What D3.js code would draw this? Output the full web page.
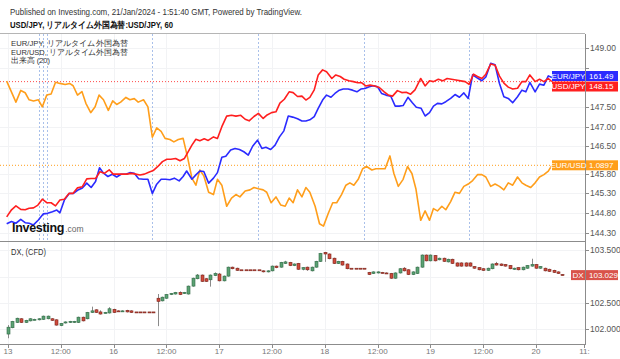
<!DOCTYPE html>
<html><head><meta charset="utf-8">
<script src="https://cdn.jsdelivr.net/npm/d3@7"></script>
<style>
body{margin:0;background:#fff;}
svg{display:block;font-family:"Liberation Sans",Arial,sans-serif;}
</style></head><body>
<svg id="c" width="620" height="359"></svg>
<script>
// ---------- DATA ----------
const xTickHours = [0,12,24,36,48,60,72,84,96,108,120,131];
const xTickLabels = ["13","12:00","16","12:00","17","12:00","18","12:00","19","12:00","20","11:"];
const sessionBreaks = [7.1,7.9,8.8,32.8,56.9,80.9,104.8];
const mainTicks = [149.00,148.50,148.00,147.50,147.00,146.50,145.80,145.30,144.80,144.30];
const dxTicks = [103.5,103.0,102.5,102.0];

// USD/JPY [hour, price]
const usdjpy = [[-0.3,144.70],[0.8,144.88],[1.8,144.98],[2.9,144.89],[3.9,144.88],[4.8,144.92],[5.8,144.93],[6.8,145.00],[7.8,145.15],[8.8,145.06],[9.8,145.06],[10.8,144.98],[11.8,145.13],[12.8,145.15],[13.9,145.30],[14.8,145.30],[15.8,145.44],[16.9,145.47],[17.9,145.67],[18.9,145.68],[19.9,145.68],[20.9,145.85],[21.9,145.81],[23.0,145.90],[23.9,145.79],[24.9,145.79],[26.0,145.79],[27.0,145.79],[28.0,145.81],[29.0,145.79],[30.0,145.77],[31.0,145.79],[32.0,145.84],[33.0,145.88],[34.0,145.98],[35.1,146.11],[36.1,146.17],[37.0,146.17],[38.1,146.19],[39.1,146.13],[40.1,146.19],[41.8,146.53],[42.7,146.68],[43.6,146.64],[44.6,146.69],[45.5,146.65],[46.7,146.74],[47.6,146.70],[48.6,147.00],[49.7,147.27],[50.8,147.29],[51.8,147.27],[52.9,147.29],[53.9,147.19],[54.8,147.15],[55.9,147.26],[56.9,147.34],[58.0,147.21],[58.9,147.30],[59.9,147.36],[60.9,147.38],[61.8,147.60],[62.8,147.70],[63.9,147.89],[64.8,147.87],[65.8,147.77],[66.8,147.78],[67.7,147.68],[68.6,147.75],[69.6,147.94],[70.5,148.32],[71.5,148.45],[72.4,148.40],[73.6,148.23],[74.5,148.32],[75.5,148.28],[76.4,148.21],[77.5,148.17],[78.5,148.15],[79.5,148.12],[80.4,148.12],[81.3,148.04],[82.3,148.06],[83.4,148.04],[84.4,148.00],[85.5,147.89],[86.4,147.81],[87.4,147.78],[88.5,147.92],[89.5,147.87],[90.5,147.88],[91.5,147.83],[92.5,147.94],[93.8,148.23],[94.8,148.04],[95.8,148.17],[96.7,148.15],[97.8,148.21],[98.8,148.17],[99.8,148.23],[100.8,148.21],[101.8,148.19],[102.9,148.17],[103.9,148.15],[104.8,148.08],[105.8,148.34],[106.7,148.28],[107.7,148.23],[108.6,148.34],[109.7,148.60],[110.7,148.57],[111.7,148.29],[112.7,148.11],[113.7,148.01],[114.7,147.96],[115.8,147.98],[116.8,148.15],[117.7,148.15],[118.6,148.32],[119.8,148.15],[120.8,148.21],[121.8,148.15],[122.8,148.23],[123.6,148.15]];

// EUR/JPY [hour, price]
const eurjpy = [[-0.3,158.83],[0.8,158.87],[1.8,158.84],[2.9,158.91],[3.9,158.85],[4.8,158.84],[5.8,158.81],[6.9,158.90],[8.0,159.01],[9.0,159.02],[10.1,159.05],[11.1,159.08],[11.8,159.03],[12.8,159.26],[13.9,159.38],[14.8,159.38],[15.8,159.44],[16.9,159.48],[17.9,159.57],[18.9,159.49],[19.9,159.60],[20.8,159.85],[21.7,159.75],[22.7,159.69],[23.7,159.73],[24.7,159.68],[25.7,159.73],[26.8,159.73],[27.7,159.76],[28.7,159.75],[29.7,159.65],[30.8,159.64],[31.8,159.64],[32.8,159.38],[33.8,159.55],[34.8,159.64],[35.8,159.64],[36.8,159.63],[37.8,159.66],[38.9,159.61],[39.8,159.69],[40.6,159.79],[41.8,159.64],[42.7,159.72],[43.6,159.79],[44.5,159.78],[45.6,159.57],[46.7,159.66],[47.6,159.76],[48.6,160.04],[49.5,160.06],[50.6,160.17],[51.6,160.20],[52.6,160.18],[53.6,160.14],[54.6,160.08],[55.6,160.24],[56.7,160.35],[57.7,160.20],[58.6,160.22],[59.7,160.18],[60.7,160.26],[61.7,160.41],[62.7,160.52],[63.7,160.79],[64.7,160.77],[65.8,160.74],[66.8,160.70],[67.7,160.70],[68.6,160.72],[69.6,160.78],[70.5,160.93],[71.5,161.08],[72.4,161.17],[73.4,161.13],[74.3,161.20],[75.3,161.26],[76.2,161.28],[77.3,161.28],[78.3,161.26],[79.3,161.23],[80.2,161.28],[81.1,161.29],[82.1,161.32],[83.0,161.34],[84.0,161.32],[84.9,161.20],[85.9,161.17],[87.0,161.15],[88.0,160.97],[88.9,160.97],[89.8,160.98],[90.9,161.13],[91.9,161.03],[92.8,160.95],[93.9,160.93],[94.8,160.79],[95.8,160.85],[96.7,160.97],[97.6,161.02],[98.6,161.01],[99.5,161.05],[100.6,161.11],[101.6,161.18],[102.6,161.13],[103.6,161.21],[104.6,161.11],[105.6,161.54],[106.7,161.48],[107.7,161.43],[108.6,161.50],[109.7,161.75],[110.7,161.72],[111.7,161.38],[112.7,161.14],[113.7,161.11],[114.7,161.03],[115.8,161.14],[116.8,161.26],[117.7,161.23],[118.6,161.40],[119.8,161.23],[120.8,161.37],[121.8,161.35],[122.8,161.52],[123.6,161.49]];

// EUR/USD [hour, price]
const eurusd = [[-0.3,1.0969],[1.8,1.0951],[2.9,1.0961],[3.9,1.0959],[4.8,1.0953],[5.8,1.0952],[6.9,1.0953],[7.8,1.0947],[8.8,1.0957],[9.8,1.0958],[10.8,1.0968],[11.8,1.0967],[13.0,1.0966],[14.0,1.0967],[14.8,1.0965],[15.8,1.0957],[16.8,1.0960],[17.7,1.0950],[18.8,1.0942],[19.8,1.0947],[20.7,1.0957],[21.7,1.0953],[22.8,1.0944],[23.8,1.0952],[24.7,1.0949],[25.6,1.0951],[26.8,1.0955],[27.7,1.0953],[28.7,1.0954],[29.6,1.0951],[30.8,1.0953],[31.8,1.0947],[32.8,1.0921],[33.8,1.0929],[34.8,1.0926],[35.7,1.0920],[36.8,1.0919],[37.7,1.0917],[38.7,1.0919],[39.8,1.0920],[40.8,1.0904],[41.8,1.0886],[42.7,1.0880],[43.6,1.0893],[44.5,1.0888],[45.6,1.0874],[46.7,1.0872],[47.6,1.0885],[48.6,1.0880],[49.7,1.0862],[50.8,1.0869],[51.8,1.0872],[52.7,1.0870],[53.9,1.0875],[55.0,1.0876],[55.9,1.0878],[56.9,1.0877],[58.0,1.0876],[58.8,1.0874],[59.8,1.0865],[60.9,1.0870],[62.0,1.0863],[63.0,1.0862],[63.9,1.0869],[64.8,1.0865],[65.8,1.0876],[66.8,1.0870],[67.7,1.0878],[68.6,1.0874],[69.8,1.0862],[70.8,1.0847],[71.7,1.0845],[72.8,1.0856],[73.8,1.0865],[74.7,1.0865],[75.8,1.0872],[76.8,1.0880],[77.7,1.0882],[78.6,1.0880],[79.6,1.0885],[80.6,1.0894],[81.5,1.0896],[82.7,1.0893],[83.6,1.0894],[84.5,1.0894],[85.7,1.0894],[86.8,1.0905],[87.7,1.0890],[88.7,1.0879],[89.8,1.0885],[90.8,1.0896],[91.8,1.0890],[92.7,1.0877],[93.8,1.0850],[94.8,1.0858],[95.8,1.0850],[96.7,1.0860],[97.6,1.0858],[98.6,1.0862],[99.5,1.0859],[100.6,1.0866],[101.6,1.0874],[102.6,1.0873],[103.6,1.0879],[104.6,1.0881],[105.6,1.0884],[106.7,1.0889],[107.7,1.0889],[108.6,1.0887],[109.7,1.0879],[110.7,1.0881],[111.7,1.0879],[112.7,1.0876],[113.7,1.0882],[114.7,1.0880],[115.8,1.0887],[116.8,1.0882],[117.7,1.0880],[118.8,1.0878],[119.8,1.0882],[120.8,1.0887],[121.8,1.0889],[122.8,1.0892],[123.6,1.0897]];

// DX (CFD) hourly candles, hour index = array index
const dxOpen = [101.91,102.03,102.13,102.20,102.13,102.16,102.18,102.18,102.19,102.20,
102.20,102.18,102.07,102.12,102.13,102.13,102.13,102.23,102.20,102.32,
102.37,102.33,102.31,102.31,102.38,102.35,102.34,102.36,102.35,102.33,
102.33,102.33,102.33,102.33,102.59,102.54,102.59,102.66,102.67,102.70,
102.68,102.67,102.82,102.96,103.03,102.96,102.94,103.02,103.05,102.92,
103.01,103.18,103.16,103.13,103.13,103.13,103.13,103.13,103.11,103.09,
103.11,103.20,103.18,103.25,103.27,103.21,103.25,103.14,103.18,103.11,
103.18,103.29,103.46,103.43,103.35,103.25,103.29,103.24,103.16,103.16,
103.16,103.16,103.08,103.06,103.07,103.08,103.07,103.06,102.97,103.07,
103.16,103.13,103.04,103.06,103.18,103.41,103.30,103.40,103.32,103.35,
103.28,103.33,103.26,103.26,103.26,103.26,103.19,103.17,103.15,103.12,
103.15,103.25,103.24,103.23,103.21,103.14,103.17,103.13,103.16,103.20,
103.23,103.16,103.16,103.14,103.12,103.09,103.04];
const dxClose = [102.04,102.15,102.21,102.13,102.17,102.20,102.19,102.20,102.25,102.25,
102.17,102.08,102.11,102.14,102.15,102.15,102.23,102.16,102.32,102.35,
102.32,102.29,102.32,102.39,102.32,102.34,102.35,102.33,102.32,102.33,
102.33,102.33,102.33,102.33,102.53,102.61,102.66,102.68,102.70,102.66,
102.70,102.82,102.97,103.03,102.91,102.91,103.03,103.06,102.92,103.01,
103.18,103.15,103.12,103.13,103.13,103.13,103.13,103.13,103.10,103.11,
103.20,103.17,103.27,103.28,103.21,103.24,103.14,103.17,103.13,103.18,
103.29,103.44,103.43,103.34,103.25,103.29,103.22,103.15,103.16,103.16,
103.16,103.16,103.04,103.09,103.09,103.07,103.06,102.97,103.07,103.15,
103.11,103.04,103.09,103.18,103.41,103.30,103.41,103.30,103.35,103.29,
103.33,103.25,103.20,103.20,103.20,103.20,103.16,103.13,103.12,103.16,
103.24,103.22,103.21,103.20,103.15,103.16,103.13,103.18,103.21,103.23,
103.16,103.19,103.11,103.10,103.08,103.06,103.029];
const dxHigh = [102.08,102.16,102.22,102.21,102.18,102.21,102.20,102.21,102.26,102.26,
102.21,102.19,102.12,102.15,102.16,102.16,102.24,102.24,102.33,102.43,
102.38,102.36,102.33,102.42,102.39,102.36,102.36,102.37,102.36,102.33,
102.33,102.33,102.33,102.33,102.67,102.62,102.67,102.69,102.71,102.72,
102.71,102.83,102.98,103.05,103.04,102.97,103.04,103.08,103.07,103.02,
103.19,103.19,103.17,103.13,103.13,103.13,103.13,103.13,103.12,103.12,
103.21,103.21,103.28,103.30,103.28,103.25,103.26,103.18,103.19,103.19,
103.30,103.45,103.47,103.44,103.36,103.30,103.30,103.25,103.16,103.16,
103.16,103.16,103.09,103.10,103.10,103.09,103.08,103.07,103.08,103.16,
103.18,103.14,103.10,103.19,103.42,103.42,103.42,103.41,103.36,103.36,
103.34,103.34,103.27,103.27,103.27,103.27,103.20,103.18,103.16,103.17,
103.25,103.28,103.25,103.24,103.22,103.17,103.18,103.19,103.22,103.34,
103.24,103.20,103.17,103.15,103.13,103.10,103.05];
const dxLow = [101.83,102.02,102.12,102.12,102.12,102.15,102.17,102.17,102.18,102.19,
102.16,102.07,102.06,102.11,102.12,102.12,102.12,102.15,102.19,102.31,
102.31,102.28,102.30,102.30,102.31,102.33,102.33,102.32,102.31,102.33,
102.33,102.33,102.33,102.33,102.06,102.53,102.58,102.65,102.66,102.65,
102.67,102.66,102.81,102.95,102.90,102.90,102.81,103.01,102.91,102.91,
103.00,103.14,103.11,103.13,103.13,103.13,103.13,103.13,103.08,103.08,
103.10,103.16,103.17,103.24,103.20,103.20,103.13,103.12,103.11,103.10,
103.17,103.28,103.28,103.33,103.24,103.24,103.21,103.14,103.16,103.16,
103.16,103.16,103.03,103.05,103.06,103.06,103.05,102.96,102.96,103.06,
103.10,103.03,103.03,103.05,103.17,103.29,103.29,103.29,103.31,103.28,
103.27,103.24,103.19,103.19,103.19,103.19,103.15,103.12,103.11,103.11,
103.14,103.21,103.20,103.19,103.14,103.13,103.12,103.12,103.15,103.19,
103.15,103.15,103.10,103.09,103.07,103.05,103.02];

// ---------- LAYOUT ----------
const svg = d3.select('#c');
const plotR = 585, mainTop = 34, mainBot = 241, lowBot = 344;
const COL = {red:"#ff1f1f", blue:"#2b2bff", orange:"#ff9e1b", dx:"#d9534a",
  up:"#5aa173", upLine:"#2f6a45", dn:"#cf4a3c", dnLine:"#7a2219", axis:"#8c8c8c", grid:"#f2f3f5", txt:"#333"};

const x = d3.scaleLinear().domain([0,131]).range([8,584.4]);
const yMain = d3.scaleLinear().domain([149,144.3]).range([48.3,232.54]);
const yEJ = d3.scaleLinear().domain([161.49,158.49]).range([77.5,242.5]);
const yEU = d3.scaleLinear().domain([1.0897,1.0797]).range([165.3,282.3]);
const yDX = d3.scaleLinear().domain([103.5,102.0]).range([250.3,329.3]);

svg.append('rect').attr('width',620).attr('height',359).attr('fill','#fff');

const defs = svg.append('defs');
defs.append('clipPath').attr('id','clipMain').append('rect').attr('x',0).attr('y',mainTop).attr('width',plotR).attr('height',mainBot-mainTop);
defs.append('clipPath').attr('id','clipLow').append('rect').attr('x',0).attr('y',mainBot).attr('width',plotR).attr('height',lowBot-mainBot);

// grid
const grid = svg.append('g');
grid.selectAll('.gh').data(mainTicks).join('line')
  .attr('x1',0).attr('x2',plotR).attr('y1',d=>Math.round(yMain(d))+0.5).attr('y2',d=>Math.round(yMain(d))+0.5)
  .attr('stroke',COL.grid);
grid.selectAll('.gl').data(dxTicks).join('line')
  .attr('x1',0).attr('x2',plotR).attr('y1',d=>Math.round(yDX(d))+0.5).attr('y2',d=>Math.round(yDX(d))+0.5)
  .attr('stroke',COL.grid);
grid.selectAll('.gv').data(xTickHours.slice(0,-1)).join('line')
  .attr('x1',d=>Math.round(x(d))+0.5).attr('x2',d=>Math.round(x(d))+0.5).attr('y1',mainTop).attr('y2',lowBot)
  .attr('stroke',COL.grid);

// session breaks
svg.append('g').selectAll('line').data(sessionBreaks).join('line')
  .attr('x1',d=>Math.round(x(d))+0.5).attr('x2',d=>Math.round(x(d))+0.5)
  .attr('y1',mainTop).attr('y2',mainBot)
  .attr('stroke','#a9c0ea').attr('stroke-dasharray','2,2');

// price lines (dotted)
svg.append('line').attr('x1',0).attr('x2',plotR)
  .attr('y1',yMain(usdjpy[usdjpy.length-1][1])).attr('y2',yMain(usdjpy[usdjpy.length-1][1]))
  .attr('stroke',COL.red).attr('stroke-dasharray','1,2').attr('opacity',0.8);
svg.append('line').attr('x1',0).attr('x2',plotR)
  .attr('y1',yEU(eurusd[eurusd.length-1][1])).attr('y2',yEU(eurusd[eurusd.length-1][1]))
  .attr('stroke',COL.orange).attr('stroke-dasharray','1,2');

// series lines
const gMain = svg.append('g').attr('clip-path','url(#clipMain)');
function drawLine(data, ys, col){
  gMain.append('path').datum(data)
    .attr('d', d3.line().x(d=>x(d[0])).y(d=>ys(d[1])))
    .attr('fill','none').attr('stroke',col).attr('stroke-width',1.6).attr('stroke-linejoin','round');
}
drawLine(eurusd, yEU, COL.orange);
drawLine(eurjpy, yEJ, COL.blue);
drawLine(usdjpy, yMain, COL.red);

// candles
const gLow = svg.append('g').attr('clip-path','url(#clipLow)');
const idx = d3.range(dxOpen.length);
gLow.selectAll('.wick').data(idx).join('line')
  .attr('x1',i=>Math.round(x(i))+0.5).attr('x2',i=>Math.round(x(i))+0.5)
  .attr('y1',i=>yDX(dxHigh[i])).attr('y2',i=>yDX(dxLow[i]))
  .attr('stroke','#8a8a8a');
gLow.selectAll('.body').data(idx).join('rect')
  .attr('x',i=>Math.round(x(i))-1)
  .attr('width',3)
  .attr('y',i=>yDX(Math.max(dxOpen[i],dxClose[i])))
  .attr('height',i=>Math.max(1,Math.abs(yDX(dxOpen[i])-yDX(dxClose[i]))))
  .attr('fill',i=>dxClose[i]>dxOpen[i]?COL.up:COL.dn)
  .attr('stroke',i=>dxClose[i]>dxOpen[i]?COL.upLine:COL.dnLine).attr('stroke-width',0.6);

// frame lines
svg.append('line').attr('x1',0).attr('x2',plotR).attr('y1',33.5).attr('y2',33.5).attr('stroke','#b5b5b5');
svg.append('line').attr('x1',0).attr('x2',plotR).attr('y1',mainBot+0.5).attr('y2',mainBot+0.5).attr('stroke',COL.axis);
svg.append('line').attr('x1',0).attr('x2',plotR).attr('y1',lowBot+0.5).attr('y2',lowBot+0.5).attr('stroke',COL.axis);
svg.append('line').attr('x1',plotR+0.5).attr('x2',plotR+0.5).attr('y1',mainTop).attr('y2',lowBot+1).attr('stroke',COL.axis);

// last values & tag positions
const ejLast = eurjpy[eurjpy.length-1][1], ujLast = usdjpy[usdjpy.length-1][1], euLast = eurusd[eurusd.length-1][1];
const dxLast = dxClose[dxClose.length-1];
const yEJc = yEJ(ejLast) - 1.5;
const yUJc = Math.max(yMain(ujLast), yEJc + 10.5);
const tagYs = [yEJc, yUJc, yEU(euLast), yDX(dxLast)];

// right axes
const axR = svg.append('g').attr('font-size',8.5).attr('fill','#555');
function rightTicks(ticks, ys, fmt){
  ticks.forEach(t=>{
    const yy = Math.round(ys(t))+0.5;
    axR.append('line').attr('x1',plotR).attr('x2',plotR+4).attr('y1',yy).attr('y2',yy).attr('stroke',COL.axis);
    if (tagYs.some(ty=>Math.abs(ty-yy)<9)) return; // hidden behind a value tag
    axR.append('text').attr('x',plotR+5).attr('y',yy).attr('dy','0.35em').text(fmt(t));
  });
}
rightTicks(mainTicks, yMain, d3.format('.2f'));
rightTicks(dxTicks, yDX, d3.format('.3f'));

// bottom axis
const axB = svg.append('g').attr('font-size',8).attr('fill','#777');
xTickHours.forEach((h,i)=>{
  const xx = Math.round(x(h))+0.5;
  axB.append('line').attr('x1',xx).attr('x2',xx).attr('y1',lowBot).attr('y2',lowBot+4).attr('stroke',COL.axis);
  axB.append('text').attr('x',x(h)).attr('y',354).attr('text-anchor','middle').text(xTickLabels[i]);
});

// last-value tags
function tag(name, val, yc, col, nameX){
  const g = svg.append('g').attr('font-size',8).attr('fill','#fff');
  g.append('rect').attr('x',nameX).attr('y',yc-5).attr('width',plotR-nameX).attr('height',10).attr('fill',col);
  g.append('rect').attr('x',plotR+1).attr('y',yc-5).attr('width',32).attr('height',10).attr('fill',col);
  g.append('text').attr('x',(nameX+plotR)/2).attr('y',yc).attr('dy','0.35em').attr('text-anchor','middle').text(name);
  g.append('text').attr('x',plotR+4).attr('y',yc).attr('dy','0.35em').text(val);
}
tag('EUR/USD', euLast.toFixed(4), yEU(euLast), COL.orange, 552);
tag('EUR/JPY', ejLast.toFixed(2), yEJc, COL.blue, 552);
tag('USD/JPY', ujLast.toFixed(2), yUJc, COL.red, 552);
tag('DX', dxLast.toFixed(3), yDX(dxLast), COL.dx, 571);

// texts
svg.append('text').attr('x',10).attr('y',15).attr('font-size',8.2).attr('fill','#333')
  .attr('textLength',292).attr('lengthAdjust','spacingAndGlyphs')
  .text('Published on Investing.com, 21/Jan/2024 - 1:51:40 GMT, Powered by TradingView.');
svg.append('text').attr('x',10).attr('y',28).attr('font-size',8.8).attr('font-weight','bold').attr('fill','#111')
  .attr('textLength',163).attr('lengthAdjust','spacingAndGlyphs')
  .text('USD/JPY, リアルタイム外国為替:USD/JPY, 60');
const legend = ['EUR/JPY, リアルタイム外国為替','EUR/USD, リアルタイム外国為替','出来高 (20)'];
const legendW = [117,117,39];
svg.append('g').attr('font-size',7.6).attr('fill','#333').selectAll('text').data(legend).join('text')
  .attr('x',11).attr('y',(d,i)=>46+i*8.5)
  .attr('textLength',(d,i)=>legendW[i]).attr('lengthAdjust','spacingAndGlyphs').text(d=>d);
svg.append('text').attr('x',11).attr('y',254.5).attr('font-size',8.2).attr('fill','#333')
  .attr('textLength',35).attr('lengthAdjust','spacingAndGlyphs').text('DX, (CFD)');

// watermark (single text element with two styled runs)
const wm = svg.append('text').attr('x',12).attr('y',232);
wm.append('tspan').attr('font-size',12.5).attr('font-weight','bold').attr('fill','#111')
  .attr('letter-spacing',-0.3).text('Investing');
wm.append('tspan').attr('font-size',8.5).attr('fill','#666').attr('dx',1).text('.com');
</script>
</body></html>
